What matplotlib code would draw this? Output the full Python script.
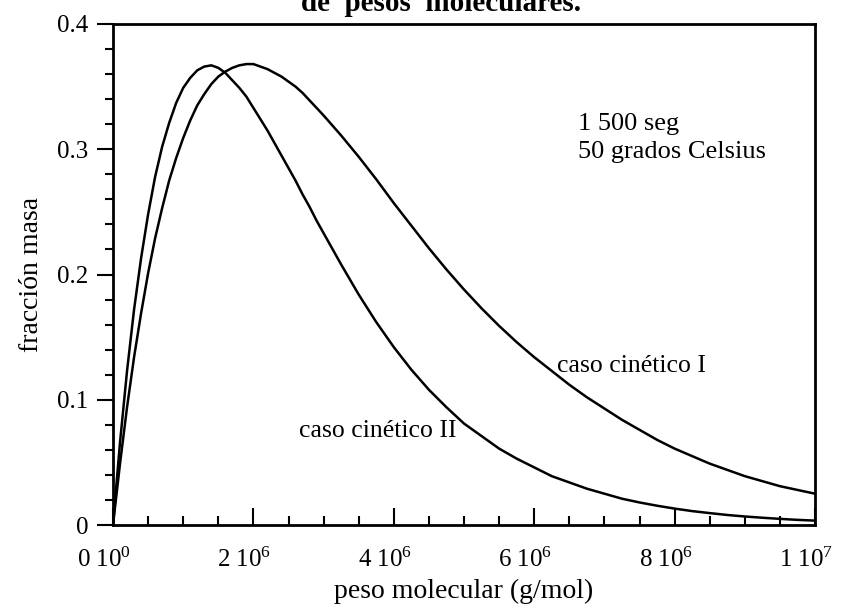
import numpy as np
import matplotlib
matplotlib.use("Agg")
import matplotlib.pyplot as plt
from matplotlib.ticker import MultipleLocator
from matplotlib.transforms import ScaledTranslation

plt.rcParams['font.family'] = ['Liberation Serif', 'DejaVu Serif']
plt.rcParams['mathtext.fontset'] = 'custom'
plt.rcParams['mathtext.rm'] = 'Liberation Serif'
plt.rcParams['mathtext.it'] = 'Liberation Serif:italic'

# peso molecular, en millones de g/mol
peso = [0, 0.1, 0.2, 0.3, 0.4, 0.5, 0.6, 0.7, 0.8, 0.9,
        1.0, 1.1, 1.2, 1.3, 1.4, 1.5, 1.6, 1.7, 1.8, 1.9,
        2.0, 2.1, 2.2, 2.3, 2.4, 2.5, 2.6, 2.7, 2.8, 2.9,
        3.0, 3.25, 3.5, 3.75, 4.0, 4.25, 4.5, 4.75, 5.0, 5.25,
        5.5, 5.75, 6.0, 6.25, 6.5, 6.75, 7.0, 7.25, 7.5, 7.75,
        8.0, 8.25, 8.5, 8.75, 9.0, 9.25, 9.5, 9.75, 10.0]

# fraccion masa, caso cinetico I
caso_1 = [0, 0.049, 0.094, 0.134, 0.169, 0.201, 0.229, 0.253, 0.275, 0.293,
          0.309, 0.323, 0.335, 0.344, 0.352, 0.358, 0.362, 0.365, 0.367, 0.368,
          0.368, 0.366, 0.364, 0.361, 0.358, 0.354, 0.350, 0.345, 0.339, 0.333,
          0.327, 0.311, 0.294, 0.276, 0.257, 0.239, 0.221, 0.204, 0.188, 0.173,
          0.159, 0.146, 0.134, 0.123, 0.112, 0.102, 0.093, 0.084, 0.076, 0.068,
          0.061, 0.055, 0.049, 0.044, 0.039, 0.035, 0.031, 0.028, 0.025]

# fraccion masa, caso cinetico II
caso_2 = [0, 0.066, 0.123, 0.172, 0.213, 0.248, 0.278, 0.302, 0.321, 0.337,
          0.349, 0.357, 0.363, 0.366, 0.367, 0.365, 0.361, 0.355, 0.349, 0.342,
          0.333, 0.324, 0.315, 0.305, 0.295, 0.285, 0.275, 0.264, 0.254, 0.243,
          0.233, 0.208, 0.184, 0.162, 0.142, 0.124, 0.108, 0.094, 0.081, 0.071,
          0.061, 0.053, 0.046, 0.039, 0.034, 0.029, 0.025, 0.021, 0.018, 0.0154,
          0.0131, 0.0111, 0.0095, 0.0080, 0.0068, 0.0058, 0.0049, 0.0041, 0.0035]

xticks = [0, 2, 4, 6, 8, 10]
xtick_labels = [r'0 10$^{0}$', r'2 10$^{6}$', r'4 10$^{6}$',
                r'6 10$^{6}$', r'8 10$^{6}$', r'1 10$^{7}$']
yticks = [0, 0.1, 0.2, 0.3, 0.4]
ytick_labels = ['0', '0.1', '0.2', '0.3', '0.4']

fig = plt.figure(figsize=(8.41, 6.12), dpi=100)
ax = fig.add_axes([113/841, 87/612, 702/841, 501/612])

ax.plot(peso, caso_1, color='black', lw=1.8)
ax.plot(peso, caso_2, color='black', lw=1.8)

ax.set_xlim(0, 10)
ax.set_ylim(0, 0.4)

for s in ax.spines.values():
    s.set_linewidth(2.0)

ax.set_xticks(xticks)
ax.set_xticklabels(xtick_labels)
ax.xaxis.set_minor_locator(MultipleLocator(0.5))
ax.set_yticks(yticks)
ax.set_yticklabels(ytick_labels)
ax.yaxis.set_minor_locator(MultipleLocator(0.02))

ax.tick_params(axis='x', which='both', direction='in', top=False, width=1.5,
               labelsize=18, pad=16)
ax.tick_params(axis='x', which='major', length=12)
ax.tick_params(axis='x', which='minor', length=6.5)
ax.tick_params(axis='y', which='both', direction='out', right=False, width=1.5,
               labelsize=18, pad=6)
ax.tick_params(axis='y', which='major', length=11.5)
ax.tick_params(axis='y', which='minor', length=6)

# etiquetas del eje x algo corridas a la izquierda
off = ScaledTranslation(-9/100, 0, fig.dpi_scale_trans)
for lab in ax.get_xticklabels():
    lab.set_transform(lab.get_transform() + off)

ax.set_xlabel('peso molecular (g/mol)', fontsize=20, labelpad=5)
ax.set_ylabel('fracción masa', fontsize=20, labelpad=10)

ax.text(6.62, 0.315, '1 500 seg', fontsize=19, ha='left', va='baseline')
ax.text(6.62, 0.293, '50 grados Celsius', fontsize=19, ha='left', va='baseline')
ax.text(6.32, 0.122, 'caso cinético I', fontsize=18.5, ha='left', va='baseline')
ax.text(2.65, 0.070, 'caso cinético II', fontsize=18.5, ha='left', va='baseline')

fig.text(441/841, 1 - 11/612, 'de  pesos  moleculares.', fontsize=21,
         fontweight='bold', ha='center', va='baseline')

fig.savefig('out.png', dpi=100)
